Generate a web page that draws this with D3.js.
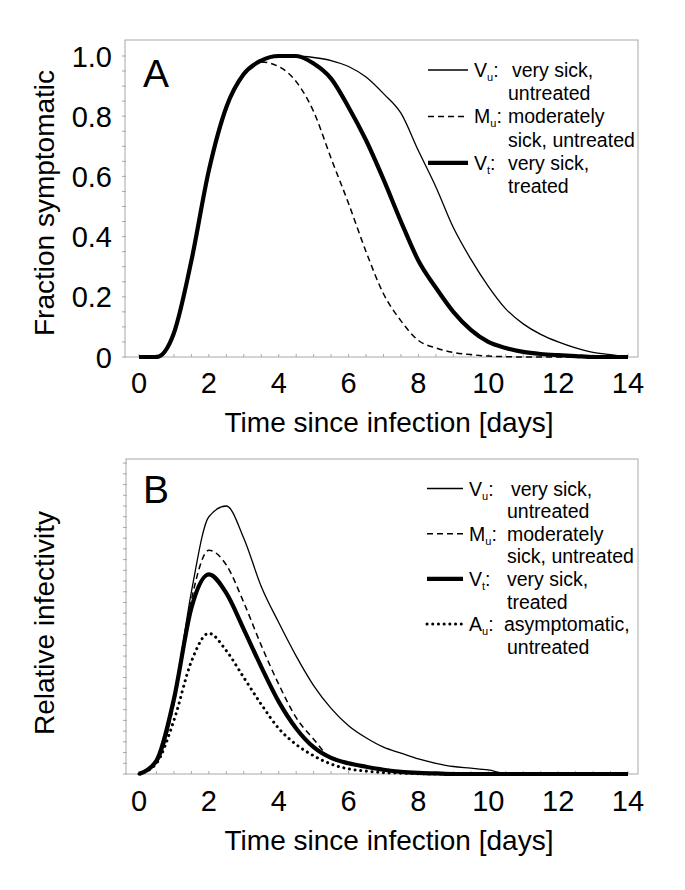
<!DOCTYPE html>
<html><head><meta charset="utf-8">
<script src="https://cdn.jsdelivr.net/npm/d3@7"></script>
<style>body{margin:0;background:#fff}svg{display:block}text{font-family:"Liberation Sans",Arial,sans-serif;fill:#000}</style>
</head><body>
<svg id="chart" width="685" height="890"></svg>
<script>
// ---------- data ----------
const days = [0,0.5,1,1.5,2,2.5,3,3.5,4,4.5,5,5.5,6,6.5,7,7.5,8,8.5,9,9.5,10,10.5,11,11.5,12,12.5,13,13.5,14];
// Panel A: fraction symptomatic
const symVu = [0,0,0.08,0.32,0.62,0.83,0.94,0.985,1.0,1.0,0.995,0.985,0.965,0.93,0.875,0.81,0.685,0.565,0.43,0.325,0.235,0.16,0.11,0.075,0.05,0.03,0.015,0.008,0];
const symMu = [0,0,0.08,0.32,0.62,0.83,0.94,0.98,0.965,0.915,0.815,0.66,0.51,0.35,0.21,0.12,0.055,0.03,0.015,0.008,0.003,0.001,0,0,0,0,0,0,0];
const symVt = [0,0,0.08,0.32,0.62,0.83,0.94,0.985,1.0,1.0,0.975,0.925,0.83,0.72,0.59,0.45,0.32,0.23,0.15,0.09,0.05,0.03,0.017,0.01,0.006,0.003,0,0,0];
// Panel B: relative infectivity (scaled so that peak of Vu = 1)
const infVu = [0,0.05,0.28,0.68,0.96,1.0,0.88,0.70,0.565,0.44,0.33,0.245,0.18,0.135,0.10,0.078,0.056,0.04,0.028,0.022,0.015,0.002,0,0,0,0,0,0,0];
const infMu = [0,0.04,0.26,0.65,0.835,0.78,0.64,0.48,0.335,0.21,0.13,0.058,0.037,0.026,0.015,0.007,0.003,0.001,0,0,0,0,0,0,0,0,0,0,0];
const infVt = [0,0.05,0.28,0.62,0.745,0.675,0.54,0.40,0.27,0.17,0.10,0.06,0.04,0.027,0.016,0.008,0.004,0.002,0,0,0,0,0,0,0,0,0,0,0];
const infAu = [0,0.04,0.2,0.42,0.525,0.46,0.36,0.26,0.17,0.11,0.068,0.037,0.019,0.011,0.005,0.003,0.001,0,0,0,0,0,0,0,0,0,0,0,0];
const xTicks = [0,2,4,6,8,10,12,14];
const yTicksA = [0,0.2,0.4,0.6,0.8,1.0];
const yTickLabelsA = ["0","0.2","0.4","0.6","0.8","1.0"];
const legendA = [
  {main:"V", sub:"u", desc:["very sick,","untreated"], style:"thin", extra:4},
  {main:"M", sub:"u", desc:["moderately","sick, untreated"], style:"dash", extra:0},
  {main:"V", sub:"t", desc:["very sick,","treated"], style:"thick", extra:0}
];
const legendB = legendA.concat([{main:"A", sub:"u", desc:["asymptomatic,","untreated"], style:"dot", extra:-3}]);

// ---------- styles ----------
const styles = {
  thin:{w:1.3, dash:null, cap:"butt"},
  dash:{w:1.5, dash:"6,4", cap:"butt"},
  thick:{w:4.2, dash:null, cap:"butt"},
  dot:{w:3, dash:"0.1,5.6", cap:"round"}
};

const svg = d3.select("#chart");

function panel(cfg){
  const g = svg.append("g");
  const x = d3.scaleLinear().domain([0,14]).range([139,628]);
  const y = d3.scaleLinear().domain([0,1]).range([cfg.y0, cfg.y1]);
  // frame
  g.append("rect").attr("x",cfg.fx0).attr("y",cfg.fy0).attr("width",cfg.fx1-cfg.fx0).attr("height",cfg.y0-cfg.fy0)
    .attr("fill","none").attr("stroke","#a8a8a8").attr("stroke-width",1);
  // x minor ticks (inside, upward)
  g.selectAll(".xt").data(d3.range(0,29).map(i=>i*0.5)).enter().append("line")
    .attr("x1",d=>x(d)).attr("x2",d=>x(d)).attr("y1",cfg.y0).attr("y2",cfg.y0-3)
    .attr("stroke","#a8a8a8").attr("stroke-width",1);
  // y minor ticks
  g.selectAll(".yt").data(cfg.yMinor).enter().append("line")
    .attr("x1",cfg.fx0-3).attr("x2",cfg.fx0+1).attr("y1",d=>y(d)).attr("y2",d=>y(d))
    .attr("stroke","#a8a8a8").attr("stroke-width",1);
  // x tick labels
  g.selectAll(".xl").data(xTicks).enter().append("text")
    .attr("x",d=>x(d)).attr("y",cfg.xLabelY).attr("text-anchor","middle")
    .attr("font-size",29).text(d=>d);
  if(cfg.yLabels){
    g.selectAll(".yl").data(cfg.yLabels).enter().append("text")
      .attr("x",112).attr("y",(d,i)=>y(yTicksA[i])+10.5).attr("text-anchor","end")
      .attr("font-size",29).text(d=>d);
  }
  // axis titles
  g.append("text").attr("x",389).attr("y",cfg.xTitleY).attr("text-anchor","middle")
    .attr("font-size",28).text("Time since infection [days]");
  g.append("text").attr("transform",`translate(54,${cfg.yTitleC}) rotate(-90)`).attr("text-anchor","middle")
    .attr("font-size",28).text(cfg.yTitle);
  // letter
  g.append("text").attr("x",143).attr("y",cfg.letterY).attr("font-size",39).text(cfg.letter);
  // curves
  const line = d3.line().x(d=>x(d[0])).y(d=>y(d[1])).curve(d3.curveMonotoneX);
  cfg.series.forEach(s=>{
    const st = styles[s.style];
    g.append("path").datum(days.map((d,i)=>[d,s.values[i]]))
      .attr("d",line).attr("fill","none").attr("stroke","#000")
      .attr("stroke-width",st.w).attr("stroke-dasharray",st.dash).attr("stroke-linecap",st.cap)
      .attr("stroke-linejoin","round");
  });
  // legend
  cfg.legend.forEach((L,i)=>{
    const b = cfg.legY + i*2*cfg.legStep;
    const st = styles[L.style];
    g.append("line").attr("x1",cfg.legX0).attr("x2",cfg.legX1).attr("y1",b-7).attr("y2",b-7)
      .attr("stroke","#000").attr("stroke-width",st.w).attr("stroke-dasharray",st.dash).attr("stroke-linecap",st.cap);
    const t = g.append("text").attr("x",cfg.legX1+6).attr("y",b).attr("font-size",19.5);
    t.append("tspan").text(L.main);
    t.append("tspan").attr("font-size",11).attr("dy",4).text(L.sub);
    t.append("tspan").attr("dy",-4).text(":");
    g.append("text").attr("x",cfg.descX+L.extra).attr("y",b).attr("font-size",19.5).text(L.desc[0]);
    g.append("text").attr("x",cfg.descX).attr("y",b+cfg.legStep).attr("font-size",19.5).text(L.desc[1]);
  });
}

panel({
  y0:357, y1:56, fx0:125, fx1:638, fy0:40,
  yMinor:d3.range(0,21).map(i=>i*0.05),
  yLabels:yTickLabelsA, xLabelY:393, xTitleY:432, yTitleC:203,
  yTitle:"Fraction symptomatic", letter:"A", letterY:87,
  series:[{values:symVu,style:"thin"},{values:symMu,style:"dash"},{values:symVt,style:"thick"}],
  legend:legendA, legY:77, legStep:23.2, legX0:428, legX1:468, descX:508
});
panel({
  y0:774, y1:506, fx0:126, fx1:638, fy0:459,
  yMinor:d3.range(0,30).map(i=>i*0.04).filter(v=>v<=1.17),
  yLabels:null, xLabelY:811, xTitleY:850, yTitleC:623,
  yTitle:"Relative infectivity", letter:"B", letterY:503,
  series:[{values:infVu,style:"thin"},{values:infMu,style:"dash"},{values:infVt,style:"thick"},{values:infAu,style:"dot"}],
  legend:legendB, legY:495.5, legStep:22.6, legX0:427, legX1:463, descX:507
});
</script>
</body></html>
